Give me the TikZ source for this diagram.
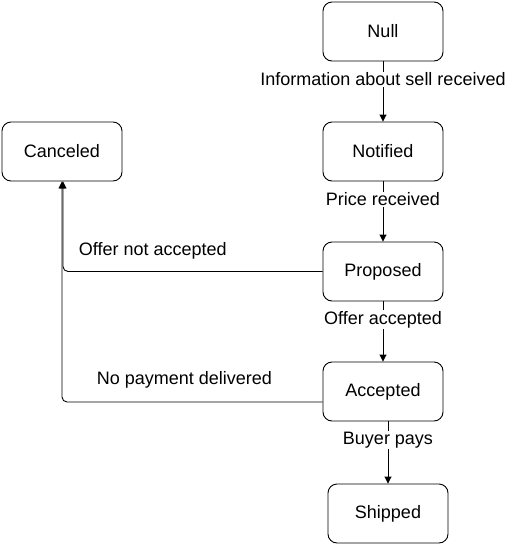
\documentclass[tikz,border=0pt]{standalone}
\usepackage{fontspec}
\setmainfont{Liberation Sans}
\usetikzlibrary{arrows.meta}

\tikzset{
  state/.style={draw, rounded corners=9pt, minimum width=120pt, minimum height=59pt, line width=0.9pt},
  trans/.style={line width=0.9pt, -{Triangle[length=7pt,width=7pt]}},
  lbl/.style={fill=white, inner sep=1pt}
}

\begin{document}
\begin{tikzpicture}[x=1pt, y=-1pt, font=\fontsize{18}{21}\selectfont]
\useasboundingbox (0,0) rectangle (507,544);

% states
\node[state] (null) at (383,31.5) {Null};
\node[state] (notified) at (383,151.5) {Notified};
\node[state] (proposed) at (383,271.5) {Proposed};
\node[state] (accepted) at (383,391.5) {Accepted};
\node[state] (shipped) at (388,513.5) {Shipped};
\node[state] (canceled) at (62,151.5) {Canceled};

% main line
\draw[trans] (null) -- node[lbl, pos=0.3] (infolbl) {Information about sell received} (notified);
\draw[trans] (notified) -- node[lbl, pos=0.3] (pricelbl) {Price received} (proposed);
\draw[trans] (proposed) -- node[lbl, pos=0.3] (offerlbl) {Offer accepted} (accepted);
\draw[trans] (accepted.south -| shipped.north) -- node[lbl, pos=0.3] (payslbl) {Buyer pays} (shipped.north);

% back to canceled
\draw[trans, rounded corners=5pt] (proposed.west) -| node[pos=0.327, yshift=21pt] (notacclbl) {Offer not accepted} ([xshift=1pt]canceled.south);
\draw[trans, rounded corners=5pt] ([yshift=-10.5pt]accepted.west) -| node[pos=0.265, yshift=22pt] (nopaylbl) {No payment delivered} (canceled.south);
\end{tikzpicture}
\end{document}
